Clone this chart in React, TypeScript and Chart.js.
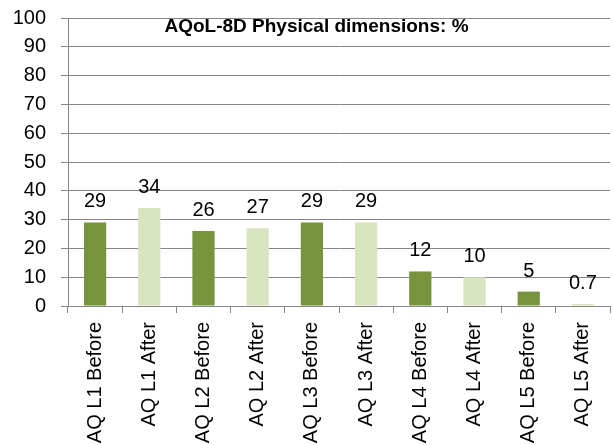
import React, { useEffect, useRef } from "react";
import { Chart, registerables } from "chart.js";

Chart.register(...registerables);

const categories = [
  "AQ L1 Before", "AQ L1 After", "AQ L2 Before", "AQ L2 After", "AQ L3 Before",
  "AQ L3 After", "AQ L4 Before", "AQ L4 After", "AQ L5 Before", "AQ L5 After",
];
const values = [29, 34, 26, 27, 29, 29, 12, 10, 5, 0.7];
const barColors = [
  "#77933C", "#D7E4BD", "#77933C", "#D7E4BD", "#77933C",
  "#D7E4BD", "#77933C", "#D7E4BD", "#77933C", "#D7E4BD",
];
const titleText = "AQoL-8D Physical dimensions: %";
const yMin = 0;
const yMax = 100;
const yStep = 10;

const FONT = "'Liberation Sans', Arial, sans-serif";

const labelPlugin = {
  id: "valueLabels",
  afterDatasetsDraw(chart: any) {
    const ctx = chart.ctx;
    const meta = chart.getDatasetMeta(0);
    ctx.save();
    ctx.font = `20px ${FONT}`;
    ctx.fillStyle = "#000";
    ctx.textAlign = "center";
    ctx.textBaseline = "alphabetic";
    meta.data.forEach((bar: any, i: number) => {
      ctx.fillText(String(values[i]), bar.x, bar.y - 15);
    });
    ctx.restore();
  },
};

const titlePlugin = {
  id: "innerTitle",
  afterDraw(chart: any) {
    const ctx = chart.ctx;
    ctx.save();
    ctx.font = `bold 19px ${FONT}`;
    ctx.fillStyle = "#000";
    ctx.textAlign = "center";
    ctx.textBaseline = "alphabetic";
    ctx.fillText(titleText, chart.width / 2 + 10, 32);
    ctx.restore();
  },
};

export default function App() {
  const ref = useRef<HTMLCanvasElement>(null);
  useEffect(() => {
    document.body.style.margin = "0";
    const chart = new Chart(ref.current!, {
      type: "bar",
      data: {
        labels: categories,
        datasets: [
          {
            data: values,
            backgroundColor: barColors,
            borderWidth: 0,
            barPercentage: 0.41,
            categoryPercentage: 1,
          },
        ],
      },
      options: {
        animation: false,
        responsive: false,
        maintainAspectRatio: false,
        layout: { padding: { left: 13, top: 18, right: 3, bottom: 0 } },
        plugins: {
          legend: { display: false },
          tooltip: { enabled: false },
          title: { display: false },
        },
        scales: {
          y: {
            min: yMin,
            max: yMax,
            afterFit: (scale: any) => {
              scale.width = 55;
              scale.paddingTop = 0;
              scale.paddingBottom = 0;
            },
            ticks: {
              stepSize: yStep,
              font: { family: FONT, size: 20 },
              color: "#000",
              padding: 15,
            },
            grid: { color: "#868686", tickLength: 7, lineWidth: 1 },
            border: { color: "#868686" },
          },
          x: {
            offset: true,
            afterFit: (scale: any) => {
              scale.height = 139;
              scale.paddingLeft = 0;
              scale.paddingRight = 0;
            },
            ticks: {
              minRotation: 90,
              maxRotation: 90,
              font: { family: FONT, size: 20 },
              color: "#000",
              padding: 9,
              autoSkip: false,
            },
            grid: {
              offset: true,
              drawOnChartArea: false,
              drawTicks: true,
              tickLength: 7,
              color: "#868686",
            },
            border: { color: "#868686" },
          },
        },
      },
      plugins: [labelPlugin, titlePlugin],
    });
    return () => chart.destroy();
  }, []);
  return (
    <div style={{ width: 613, height: 445 }}>
      <canvas ref={ref} width={613} height={445} />
    </div>
  );
}
